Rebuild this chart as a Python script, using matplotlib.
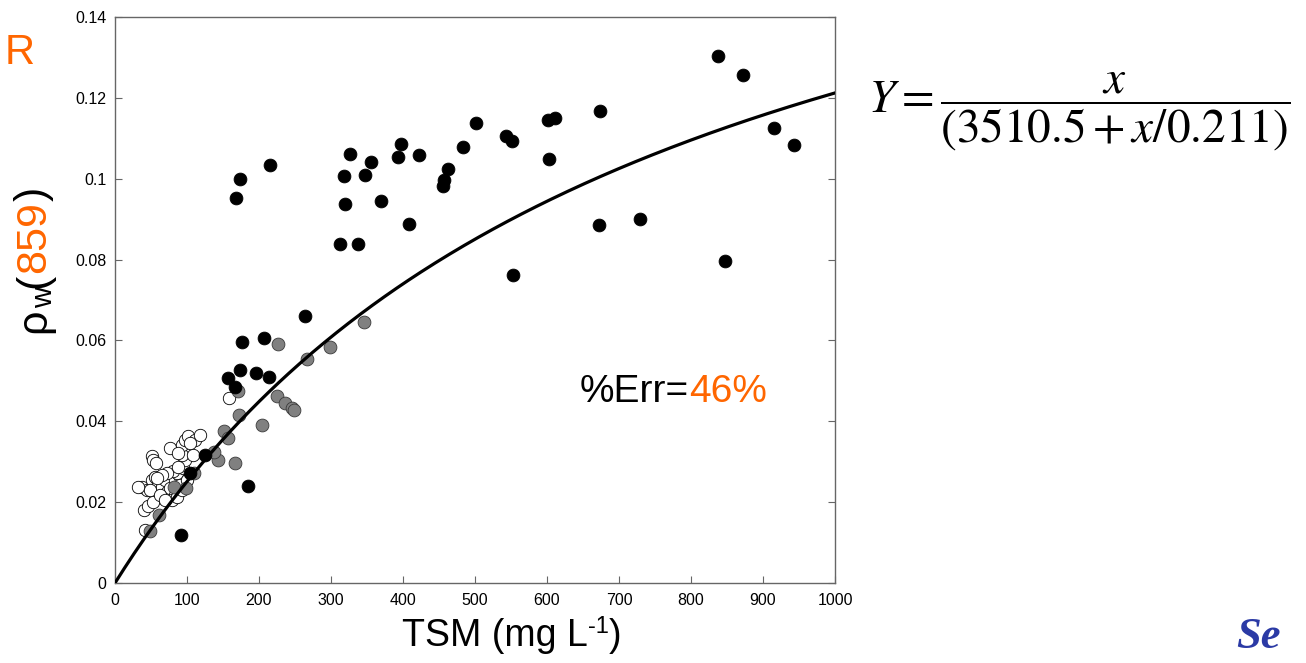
import numpy as np
import matplotlib
matplotlib.use('Agg')
from matplotlib import pyplot as plt

plt.rcParams['font.family'] = ['Liberation Sans', 'DejaVu Sans']

ORANGE = '#ff6600'
W, H = 1306, 663

# TSM (mg/L) and rho_w(859)
black_x = [837, 872, 915, 943, 847, 729, 672, 674, 611, 601, 603, 551, 543, 553, 501, 483, 462, 457,
           455, 422, 408, 397, 393, 369, 356, 347, 326, 318, 319, 313, 338, 215, 174, 168, 176, 207,
           264, 174, 196, 214, 157, 167, 185, 125, 104, 92]
black_y = [0.1303, 0.1256, 0.1125, 0.1083, 0.0796, 0.0900, 0.0885, 0.1167, 0.1150, 0.1145, 0.1049,
           0.1093, 0.1106, 0.0762, 0.1138, 0.1078, 0.1024, 0.0997, 0.0982, 0.1059, 0.0888, 0.1086,
           0.1054, 0.0945, 0.1041, 0.1009, 0.1061, 0.1007, 0.0937, 0.0838, 0.0838, 0.1034, 0.0999,
           0.0952, 0.0596, 0.0606, 0.0660, 0.0527, 0.0519, 0.0510, 0.0507, 0.0485, 0.0240, 0.0317,
           0.0272, 0.0119]

gray_x = [346, 298, 266, 226, 171, 172, 225, 236, 246, 248, 204, 167, 151, 157, 143, 138, 110, 82,
          99, 61, 49]
gray_y = [0.0646, 0.0584, 0.0554, 0.0591, 0.0475, 0.0416, 0.0462, 0.0445, 0.0433, 0.0427, 0.0391,
          0.0297, 0.0376, 0.0359, 0.0304, 0.0324, 0.0272, 0.0237, 0.0235, 0.0168, 0.0129]

white_x = [158, 42, 40, 46, 53, 37, 44, 51, 56, 60, 65, 69, 72, 76, 83, 83, 79, 90, 86, 81, 94, 97,
           93, 108, 51, 53, 57, 76, 93, 97, 101, 111, 118, 104, 88, 72, 65, 58, 49, 62, 69, 86, 93,
           90, 100, 87, 32]
white_y = [0.0458, 0.0131, 0.0181, 0.0190, 0.0200, 0.0237, 0.0230, 0.0255, 0.0262, 0.0250, 0.0237,
           0.0255, 0.0225, 0.0235, 0.0255, 0.0218, 0.0205, 0.0262, 0.0272, 0.0277, 0.0284, 0.0304,
           0.0317, 0.0317, 0.0314, 0.0304, 0.0297, 0.0334, 0.0341, 0.0354, 0.0364, 0.0354, 0.0366,
           0.0346, 0.0322, 0.0272, 0.0267, 0.0260, 0.0230, 0.0218, 0.0205, 0.0213, 0.0230, 0.0242,
           0.0255, 0.0287, 0.0237]

# fit: Y = x / (3510.5 + x/0.211)
fit_a, fit_b = 3510.5, 0.211

x_ticks = list(range(0, 1001, 100))
y_ticks = [0, 0.02, 0.04, 0.06, 0.08, 0.1, 0.12, 0.14]
y_tick_labels = ['0', '0.02', '0.04', '0.06', '0.08', '0.1', '0.12', '0.14']


def fx(px):
    return px / W


def fy(py):
    return 1 - py / H


fig = plt.figure(figsize=(W / 100, H / 100), dpi=100)
ax = fig.add_axes([fx(115), fy(583), fx(835) - fx(115), fy(17) - fy(583)])

ax.scatter(white_x, white_y, s=80, facecolor='white', edgecolor='black', linewidth=0.6, zorder=2)
ax.scatter(gray_x, gray_y, s=85, facecolor='#808080', edgecolor='#3a3a3a', linewidth=0.6, zorder=3)
ax.scatter(black_x, black_y, s=85, facecolor='black', edgecolor='black', linewidth=0.6, zorder=4)

xx = np.linspace(0, 1000, 300)
ax.plot(xx, xx / (fit_a + xx / fit_b), color='black', lw=2.3, zorder=5)

ax.set_xlim(0, 1000)
ax.set_ylim(0, 0.14)
ax.set_xticks(x_ticks)
ax.set_yticks(y_ticks)
ax.set_yticklabels(y_tick_labels)
ax.tick_params(direction='in', length=5, width=0.8, color='#666666', labelsize=11.5, right=True)
ax.tick_params(axis='x', pad=7)
ax.tick_params(axis='y', pad=6)
for sp in ax.spines.values():
    sp.set_color('#666666')
    sp.set_linewidth(1)

renderer = fig.canvas.get_renderer()

# x label with a small raised "-1"
xpos = 402
for s, fs, lift in [('TSM (mg L', 27, 0), ('-1', 17, 13), (')', 27, 0)]:
    t = fig.text(fx(xpos), fy(646 - lift), s, fontsize=fs, ha='left', va='baseline')
    xpos += t.get_window_extent(renderer).width

# y label, built in pieces so 859 can be orange
ypos = 333
for s, col, fs, dx in [('ρ', 'black', 31, 0), ('w', 'black', 21, 7), ('(', 'black', 31, 0),
                       ('859', ORANGE, 31, 0), (')', 'black', 31, 0)]:
    t = fig.text(fx(45 + dx), fy(ypos), s, rotation=90, rotation_mode='anchor', ha='left',
                 va='baseline', fontsize=fs, color=col)
    ypos -= t.get_window_extent(renderer).height

# %Err annotation
xpos = 580
for s, col in [('%Err=', 'black'), ('46%', ORANGE)]:
    t = fig.text(fx(xpos), fy(402), s, fontsize=28, color=col, ha='left', va='baseline')
    xpos += t.get_window_extent(renderer).width

fig.text(fx(5), fy(64), 'R', fontsize=30, color=ORANGE, ha='left', va='baseline')

fig.text(fx(868), fy(112), r'$Y=\dfrac{x}{\left(3510.5+x/0.211\right)}$', math_fontfamily='stix',
         fontsize=34, ha='left', va='center')

fig.text(fx(1236), fy(648), 'Se', fontsize=32, color='#2b3aa5', style='italic', weight='bold',
         family='Liberation Serif', ha='left', va='baseline')

fig.savefig('out.png', dpi=100)
